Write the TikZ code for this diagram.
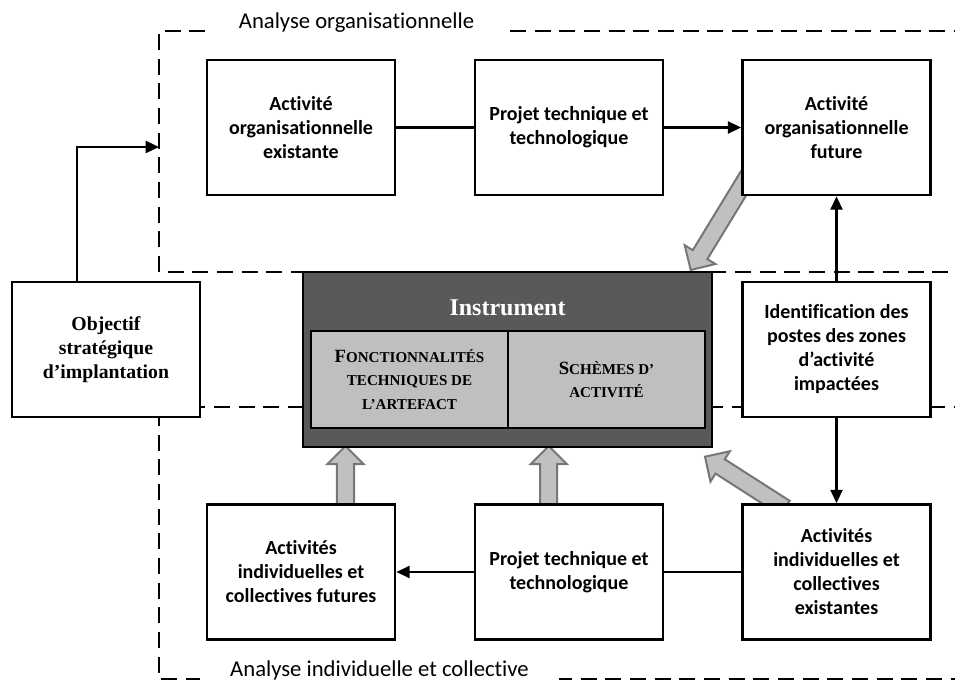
\documentclass[tikz,border=0pt]{standalone}
\usepackage{fontspec}
\setmainfont{Liberation Serif}
\newfontfamily\carl[Ligatures={NoCommon}]{Carlito}
\usetikzlibrary{calc,arrows.meta}
\definecolor{instdark}{HTML}{595959}
\definecolor{instlight}{HTML}{BFBFBF}
\definecolor{barrfill}{HTML}{C0C0C0}
\definecolor{barredge}{HTML}{767676}
\newcommand{\bigsc}[1]{{\fontsize{14}{17.5}\selectfont #1}}
\newcommand{\smc}[1]{{\fontsize{11.3}{17.5}\selectfont #1}}
\newcommand{\blockarrow}[2]{%
  \coordinate (#1-#2-h) at ($(#2)!13.5pt!(#1)$);
  \draw[blockarr] ($(#1)!6.4pt!90:(#2)$) -- ($(#1-#2-h)!6.4pt!90:(#2)$)
    -- ($(#1-#2-h)!13.5pt!90:(#2)$) -- (#2)
    -- ($(#1-#2-h)!13.5pt!-90:(#2)$) -- ($(#1-#2-h)!6.4pt!-90:(#2)$)
    -- ($(#1)!6.4pt!-90:(#2)$) -- cycle;}
\begin{document}
\begin{tikzpicture}[x=0.75pt,y=-0.75pt,
  box/.style={draw, line width=2pt, fill=white, minimum width=141pt,
    minimum height=101.25pt, inner sep=0pt, align=center,
    font=\carl\bfseries\fontsize{15}{18}\selectfont},
  serifbox/.style={box, font=\bfseries\fontsize{14.8}{18}\selectfont},
  zone/.style={line width=2pt, dash pattern=on 12pt off 6.5pt},
  zonelabel/.style={fill=white, inner xsep=23pt, inner ysep=3pt, anchor=base,
    font=\carl\fontsize{17}{20}\selectfont},
  conn/.style={line width=1.7pt, -{Triangle[length=10pt,width=9pt]}},
  link/.style={line width=1.7pt},
  blockarr/.style={draw=barredge, fill=barrfill, line width=1.5pt, line join=miter},
  instbox/.style={draw=black, line width=1.5pt, fill=instdark,
    minimum width=306.75pt, minimum height=131.25pt, inner sep=0pt},
  instcell/.style={draw=black, line width=1.5pt, fill=instlight,
    minimum width=147.75pt, minimum height=72.75pt, inner sep=0pt, align=center,
    font=\bfseries\fontsize{11.3}{17.5}\selectfont},
  insttitle/.style={text=white, inner sep=0pt, font=\bfseries\fontsize{18}{20}\selectfont}]
\useasboundingbox (0,0) rectangle (955,681);

% zones
\draw[zone] (970,31) -- (159,31) -- (159,272) -- (970,272);
\draw[zone] (970,407) -- (159,407) -- (159,679) -- (970,679);

% block arrow anchor coordinates
\coordinate (ba1s) at (748,176);
\coordinate (ba1e) at (690.7,270);
\coordinate (ba2s) at (785,508);
\coordinate (ba2e) at (705,456.7);
\coordinate (ba3s) at (345.5,510);
\coordinate (ba3e) at (345.5,446);
\coordinate (ba4s) at (548.7,510);
\coordinate (ba4e) at (548.7,446);
\blockarrow{ba1s}{ba1e}
\blockarrow{ba2s}{ba2e}
\blockarrow{ba3s}{ba3e}
\blockarrow{ba4s}{ba4e}

% boxes
\node[serifbox] (obj) at (106,349.5) {Objectif\\strat\'egique\\d’implantation};
\node[box] (aoe) at (301,127.5) {Activité\\organisationnelle\\existante};
\node[box] (ptt) at (569,127.5) {Projet technique et\\technologique};
\node[box] (aof) at (836.5,127.5) {Activité\\organisationnelle\\future};
\node[box] (ident) at (836.5,349.5) {Identification des\\postes des zones\\d’activité\\impactées};
\node[box] (aicf) at (301,572) {Activités\\individuelles et\\collectives futures};
\node[box] (ptb) at (569,572) {Projet technique et\\technologique};
\node[box] (aice) at (836.5,572) {Activités\\individuelles et\\collectives\\existantes};

% instrument
\node[instbox] (inst) at (507.5,359.5) {};
\node[insttitle] (insttitle) at (507.5,308) {Instrument};
\node[instcell] (fonc) at (409.5,379.5) {\bigsc{F}\smc{ONCTIONNALITÉS}\\TECHNIQUES DE\\L’ARTEFACT};
\node[instcell] (schemes) at (606.5,379.5) {\bigsc{S}\smc{CHÈMES D’}\\ACTIVITÉ};

% connectors
\coordinate (orgzone) at (159,147);
\draw[conn] ($(obj.north west)!0.346!(obj.north east)$) |- (orgzone);
\draw[link] (aoe) -- (ptt);
\draw[conn] (ptt) -- (aof);
\draw[conn] (ident) -- (aof);
\draw[conn] (ident) -- (aice);
\draw[link] (aice) -- (ptb);
\draw[conn] (ptb) -- (aicf);

% zone labels
\node[zonelabel] (lblorg) at (356.5,29) {Analyse organisationnelle};
\node[zonelabel, inner ysep=1pt] (lblind) at (379.5,676.5) {Analyse individuelle et collective};
\end{tikzpicture}
\end{document}
